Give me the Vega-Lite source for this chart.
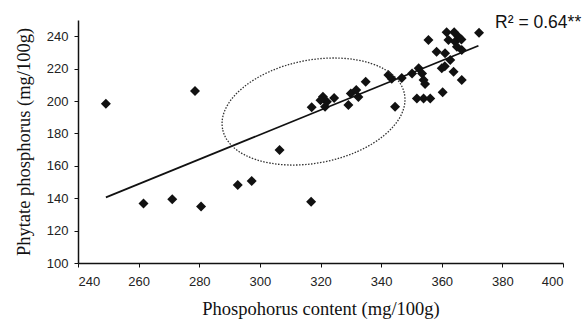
{
  "$schema": "https://vega.github.io/schema/vega-lite/v6.json",
  "width": 485,
  "height": 243,
  "autosize": "none",
  "padding": {"left": 78, "top": 20, "right": 21, "bottom": 61},
  "background": "white",
  "config": {
    "view": {"stroke": null},
    "axis": {
      "grid": false,
      "domainColor": "#111",
      "domainWidth": 1.5,
      "tickColor": "#111",
      "tickSize": 4,
      "labelFont": "Liberation Sans",
      "labelFontSize": 13,
      "labelColor": "#222",
      "titleFont": "Liberation Serif",
      "titleFontWeight": "normal",
      "titleColor": "#111"
    }
  },
  "encoding": {
    "x": {
      "field": "x", "type": "quantitative",
      "scale": {"domain": [240, 400], "nice": false, "zero": false},
      "axis": {"values": [240, 260, 280, 300, 320, 340, 360, 380, 400], "title": "Phospohorus content (mg/100g)", "titleFontSize": 18.5, "labelPadding": 8, "titlePadding": 11}
    },
    "y": {
      "field": "y", "type": "quantitative",
      "scale": {"domain": [100, 250], "nice": false, "zero": false},
      "axis": {"values": [100, 120, 140, 160, 180, 200, 220, 240], "title": "Phytate phosphorus (mg/100g)", "titleFontSize": 18.5, "labelPadding": 6, "titlePadding": 13}
    }
  },
  "layer": [
    {
      "data": {"values": [
        {"x": 249.2, "y": 198.3}, {"x": 278.6, "y": 206.2}, {"x": 261.6, "y": 136.8},
        {"x": 271.1, "y": 139.3}, {"x": 280.6, "y": 134.8}, {"x": 292.7, "y": 148.1},
        {"x": 297.3, "y": 150.6}, {"x": 306.5, "y": 169.8}, {"x": 316.9, "y": 137.8},
        {"x": 317.1, "y": 196.1}, {"x": 320.8, "y": 202.7}, {"x": 322.1, "y": 199.6},
        {"x": 324.5, "y": 201.8}, {"x": 321.5, "y": 196.5}, {"x": 320.0, "y": 200.5},
        {"x": 329.2, "y": 197.5}, {"x": 330.0, "y": 204.7}, {"x": 331.8, "y": 206.8},
        {"x": 332.5, "y": 202.5}, {"x": 334.9, "y": 211.9}, {"x": 342.4, "y": 216.0},
        {"x": 343.5, "y": 213.8}, {"x": 344.6, "y": 196.5}, {"x": 346.8, "y": 214.2},
        {"x": 350.2, "y": 217.0}, {"x": 352.4, "y": 220.2}, {"x": 353.5, "y": 217.0},
        {"x": 354.0, "y": 213.0}, {"x": 354.5, "y": 210.5}, {"x": 351.8, "y": 201.6},
        {"x": 354.0, "y": 201.6}, {"x": 356.2, "y": 201.6}, {"x": 360.3, "y": 205.4},
        {"x": 355.6, "y": 237.7}, {"x": 358.3, "y": 230.4}, {"x": 361.1, "y": 229.4},
        {"x": 360.0, "y": 220.2}, {"x": 361.0, "y": 221.5}, {"x": 362.8, "y": 225.3},
        {"x": 363.9, "y": 218.1}, {"x": 366.6, "y": 213.0}, {"x": 366.6, "y": 231.5},
        {"x": 361.6, "y": 242.5}, {"x": 364.1, "y": 242.5}, {"x": 365.5, "y": 239.7},
        {"x": 362.2, "y": 237.7}, {"x": 364.4, "y": 236.6}, {"x": 366.5, "y": 238.0},
        {"x": 372.3, "y": 242.2}, {"x": 365.0, "y": 233.5}
      ]},
      "mark": {"type": "point", "shape": "diamond", "filled": true, "color": "#111", "size": 100, "opacity": 1}
    },
    {
      "data": {"values": [{"x": 249.2, "y": 140.5}, {"x": 372.1, "y": 234.1}]},
      "mark": {"type": "line", "color": "#111", "strokeWidth": 1.8}
    },
    {
      "data": {"values": [{"x": 317.7, "y": 193.5}]},
      "mark": {
        "type": "point",
        "shape": "M -1 0 A 1 0.556 0 1 1 1 0 A 1 0.556 0 1 1 -1 0 Z",
        "size": 34300,
        "angle": -10.9,
        "filled": false,
        "stroke": "#333",
        "strokeWidth": 1.3,
        "strokeDash": [1.5, 1.5],
        "opacity": 1
      }
    },
    {
      "data": {"values": [{"x": 377.6, "y": 245, "label": "R² = 0.64**"}]},
      "mark": {"type": "text", "align": "left", "baseline": "alphabetic", "font": "Liberation Sans", "fontSize": 17.5, "color": "#111"},
      "encoding": {"text": {"field": "label", "type": "nominal"}}
    }
  ]
}
